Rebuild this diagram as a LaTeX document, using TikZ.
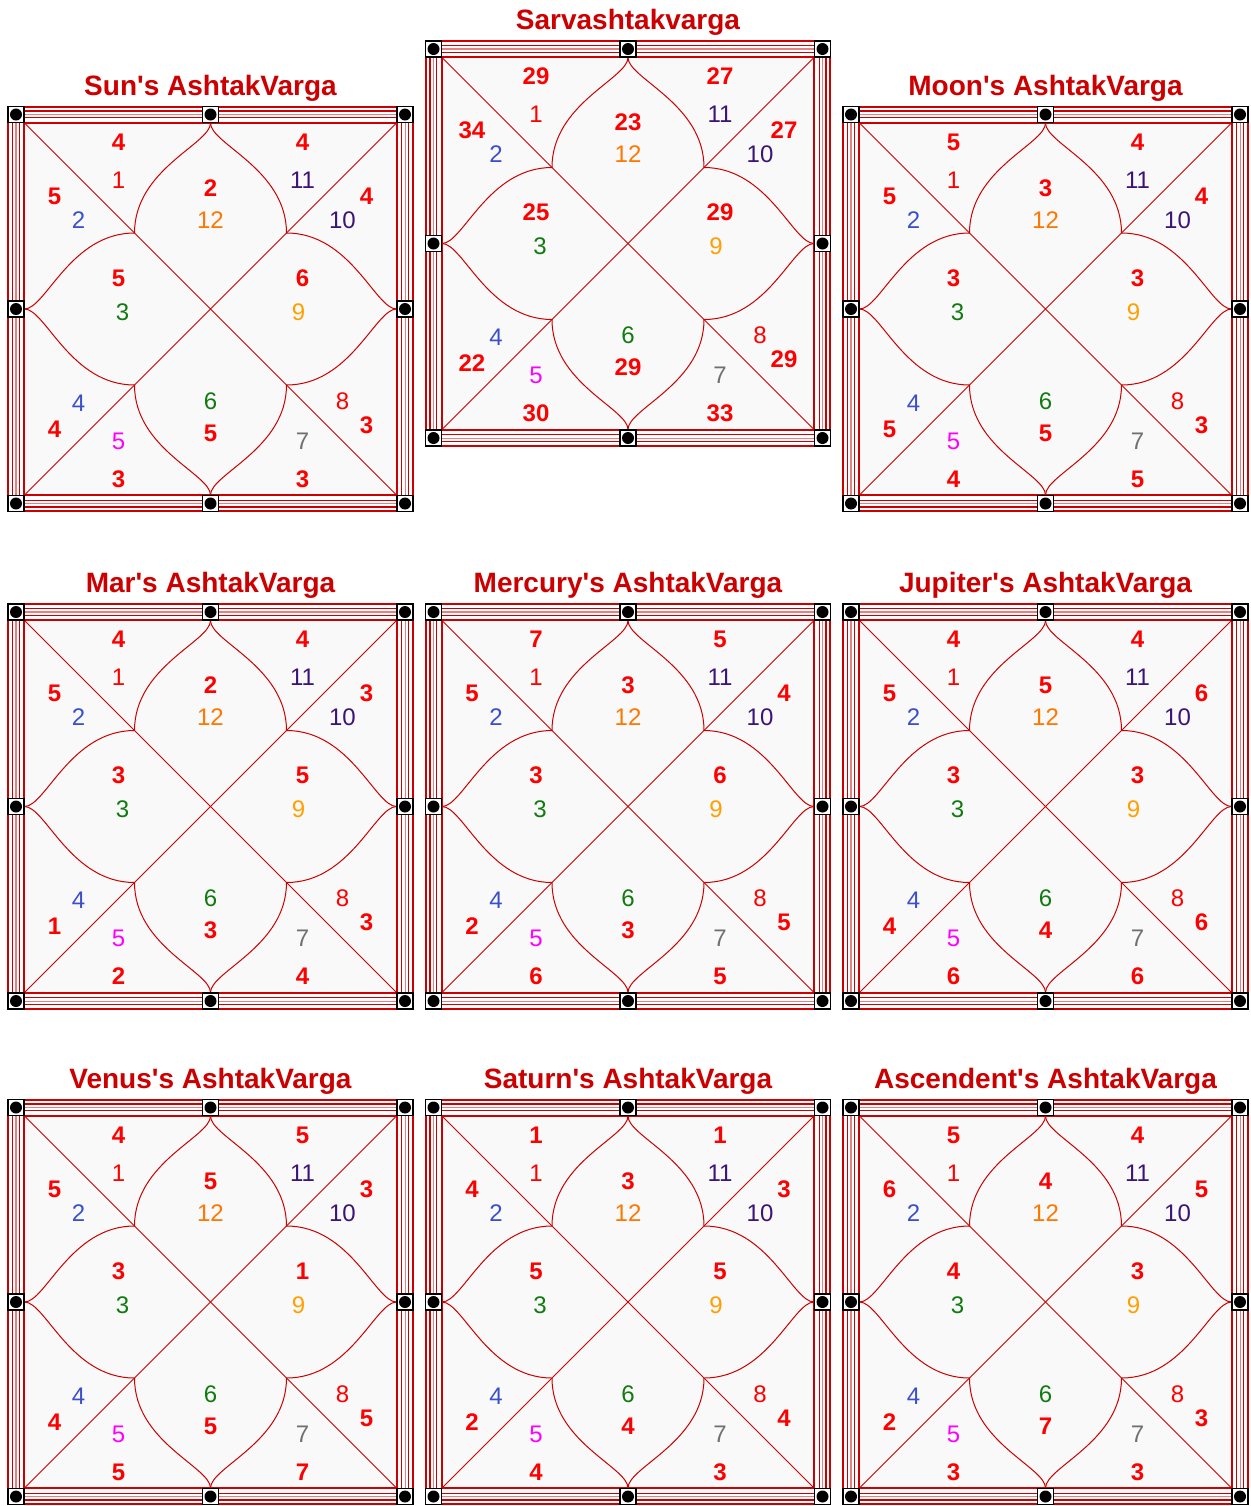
\documentclass[tikz,border=0pt]{standalone}
\usepackage{fontspec}
\newfontfamily\lsans{Liberation Sans}
\definecolor{lred}{HTML}{CC0000}
\definecolor{lpink}{HTML}{E88080}
\definecolor{sred}{HTML}{FF0000}
\definecolor{cblue}{HTML}{3A4FCC}
\definecolor{cgreen}{HTML}{117A11}
\definecolor{cmag}{HTML}{FF00FF}
\definecolor{cgray}{HTML}{707070}
\definecolor{corange}{HTML}{FFA000}
\definecolor{cdorange}{HTML}{FF7700}
\definecolor{cpurple}{HTML}{3C1478}
\definecolor{bgc}{HTML}{F9F9F9}
\tikzset{
  chartline/.style={draw=lred, line width=0.5pt},
  score/.style={text=sred, font=\lsans\fontsize{12}{12}\selectfont\bfseries, inner sep=0pt},
  lab/.style={font=\lsans\fontsize{12}{12}\selectfont, inner sep=0pt},
  ctitle/.style={text=lred, font=\lsans\fontsize{14}{14}\selectfont\bfseries, inner sep=0pt},
  knob/.style={draw=black, fill=white, line width=0.8pt, minimum size=8pt, inner sep=0pt},
  knobdot/.style={fill=black, circle, minimum size=6pt, inner sep=0pt},
}
\def\sxarr{{-92,-156,-92,-156,-92,0,92,156,92,156,92,0}}
\def\syarr{{-167,-113,-31,120,170,124,170,116,-31,-113,-167,-121}}
\newcommand\kchart[5]{%
\begin{scope}[shift={(#2,#3)}]
  \fill[white] (-203,-203) rectangle (203,203);
  \fill[bgc] (-186,-186) rectangle (186,186);
  \draw[lred, line width=1.1pt] (-202.2,-202.2) rectangle (202.2,202.2);
  \draw[lred, line width=0.6pt] (-198,-198) rectangle (198,198);
  \draw[lpink, line width=0.6pt] (-194.6,-194.6) rectangle (194.6,194.6);
  \draw[lred, line width=0.6pt] (-191.2,-191.2) rectangle (191.2,191.2);
  \draw[lred, line width=0.9pt] (-186.3,-186.3) rectangle (186.3,186.3);
  \draw[chartline] (-186,-186) -- (186,186);
  \draw[chartline] (-186,186) -- (186,-186);
  \foreach \sx in {1,-1} \foreach \sy in {1,-1} {
    \draw[chartline, xscale=\sx, yscale=\sy] (0,-186) .. controls (0,-165) and (-76,-140) .. (-76,-76)
      .. controls (-140,-76) and (-165,0) .. (-186,0);
  }
  \foreach \bx/\by [count=\k] in {-194.5/-194.5, 0/-194.5, 194.5/-194.5, -194.5/0, 194.5/0, -194.5/194.5, 0/194.5, 194.5/194.5} {
    \node[knob] (#1k\k) at (\bx,\by) {};
    \node[knobdot] (#1d\k) at (\bx,\by) {};
  }
  \node[ctitle] (#1t) at (0,-221) {#4};
  \foreach \l/\lx/\ly/\c in {1/-92/-129/sred, 2/-132/-89/cblue, 3/-88/3/cgreen, 4/-132/94/cblue,
     5/-92/132/cmag, 6/0/92/cgreen, 7/92/132/cgray, 8/132/92/sred, 9/88/3/corange,
     10/132/-89/cpurple, 11/92/-129/cpurple, 12/0/-89/cdorange} {
    \node[lab, text=\c] (#1l\l) at (\lx,\ly) {\l};
  }
  \foreach \s [count=\i] in {#5} {
    \pgfmathsetmacro\px{\sxarr[\i-1]}
    \pgfmathsetmacro\py{\syarr[\i-1]}
    \node[score] (#1s\i) at (\px,\py) {\s};
  }
\end{scope}}
\begin{document}
\begin{tikzpicture}[x=0.5pt, y=-0.5pt]
\useasboundingbox (0,0) rectangle (1250,1506);
\kchart{sun}{210.5}{309}{Sun's AshtakVarga}{4,5,5,4,3,5,3,3,6,4,4,2}
\kchart{sav}{628}{243.5}{Sarvashtakvarga}{29,34,25,22,30,29,33,29,29,27,27,23}
\kchart{moon}{1045.5}{309}{Moon's AshtakVarga}{5,5,3,5,4,5,5,3,3,4,4,3}
\kchart{mars}{210.5}{806.5}{Mar's AshtakVarga}{4,5,3,1,2,3,4,3,5,3,4,2}
\kchart{merc}{628}{806.5}{Mercury's AshtakVarga}{7,5,3,2,6,3,5,5,6,4,5,3}
\kchart{jup}{1045.5}{806.5}{Jupiter's AshtakVarga}{4,5,3,4,6,4,6,6,3,6,4,5}
\kchart{ven}{210.5}{1302}{Venus's AshtakVarga}{4,5,3,4,5,5,7,5,1,3,5,5}
\kchart{sat}{628}{1302}{Saturn's AshtakVarga}{1,4,5,2,4,4,3,4,5,3,1,3}
\kchart{asc}{1045.5}{1302}{Ascendent's AshtakVarga}{5,6,4,2,3,7,3,3,3,5,4,4}
\end{tikzpicture}
\end{document}
